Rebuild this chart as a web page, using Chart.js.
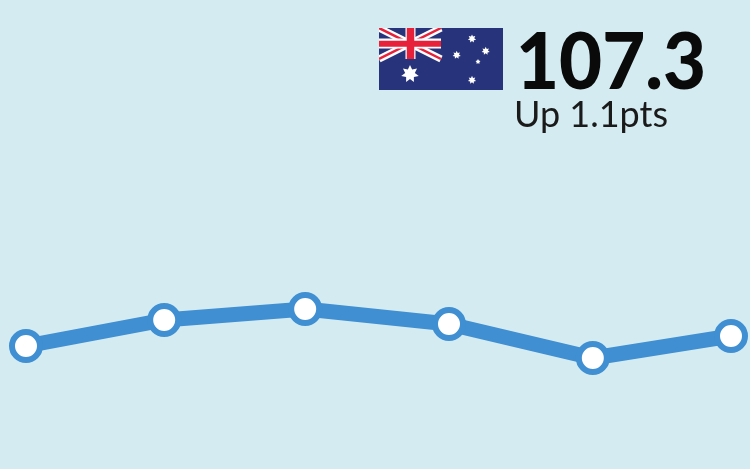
<!DOCTYPE html>
<html><head><meta charset="utf-8">
<script src="https://cdn.jsdelivr.net/npm/chart.js@4"></script>
<style>
html,body{margin:0;padding:0;background:#d4ecf1;overflow:hidden}
#wrap{position:relative;width:750px;height:469px}
canvas{position:absolute;left:0;top:0}
#flag{position:absolute;left:379px;top:28px}
.t{position:absolute;font-family:Lato,sans-serif;color:#0a0a0a;white-space:nowrap;line-height:1}
#big{left:516px;top:19px;font-size:79px;font-weight:900;transform:scaleX(0.94);transform-origin:left top}
#sub{left:514px;top:95px;font-size:36px;color:#1a1a1a}
</style></head><body>
<div id="wrap">
<canvas id="c" width="750" height="469"></canvas>
<svg id="flag" width="124" height="62" viewBox="0 0 124 62" xmlns="http://www.w3.org/2000/svg">
<rect width="124" height="62" fill="#27337a"/>
<path d="M0 0L62 31M62 0L0 31" stroke="#fff" stroke-width="7"/>
<path d="M0 0L62 31M62 0L0 31" stroke="#e8213a" stroke-width="2.500"/>
<path d="M31.500 0V31M0 15.500H62" stroke="#fff" stroke-width="10"/>
<path d="M31.500 0V31" stroke="#e8213a" stroke-width="7.500"/>
<path d="M0 15.700H62" stroke="#e8213a" stroke-width="6"/>
<g id="stars" fill="#fff"></g>
</svg>
<div class="t" id="big">107.3</div>
<div class="t" id="sub">Up 1.1pts</div>
</div>
<script>
const periods = [0, 0.98, 1.98, 3, 4.02, 5];
const index = [106.8, 108.1, 108.65, 107.9, 106.2, 107.3];

const starSpec = [[31,46,7,9],[93,10.700,7,4.2],[77.700,27,7,4.2],[106.700,23,7,4.2],[99,33.700,5,2.600],[93,52,7,4.2]];
let out = '';
for (const [cx,cy,n,r] of starSpec) {
  let p = [];
  for (let i=0;i<n*2;i++){
    const a = -Math.PI/2 + i*Math.PI/n, rr = i%2 ? r*0.55 : r;
    p.push((cx+rr*Math.cos(a)).toFixed(2)+','+(cy+rr*Math.sin(a)).toFixed(2));
  }
  out += '<polygon points="'+p.join(' ')+'"/>';
}
document.getElementById('stars').innerHTML = out;

new Chart(document.getElementById('c'), {
  type: 'line',
  data: { datasets: [{
    data: periods.map((x,i)=>({x, y:index[i]})),
    borderColor: '#3f8fd2', borderWidth: 15, tension: 0,
    pointBackgroundColor: '#fff', pointBorderColor: '#3f8fd2',
    pointBorderWidth: 6, pointRadius: 14, pointHoverRadius: 14,
    borderJoinStyle:'round', clip:false
  }]},
  options: {
    responsive:false, animation:false,
    layout:{autoPadding:false,padding:{left:26,right:19,top:0,bottom:0}},
    plugins:{legend:{display:false},tooltip:{enabled:false},title:{display:false}},
    scales:{
      x:{type:'linear',min:0,max:5,display:false},
      y:{min:100.65,max:124.1,display:false}
    }
  }
});
</script>
</body></html>
